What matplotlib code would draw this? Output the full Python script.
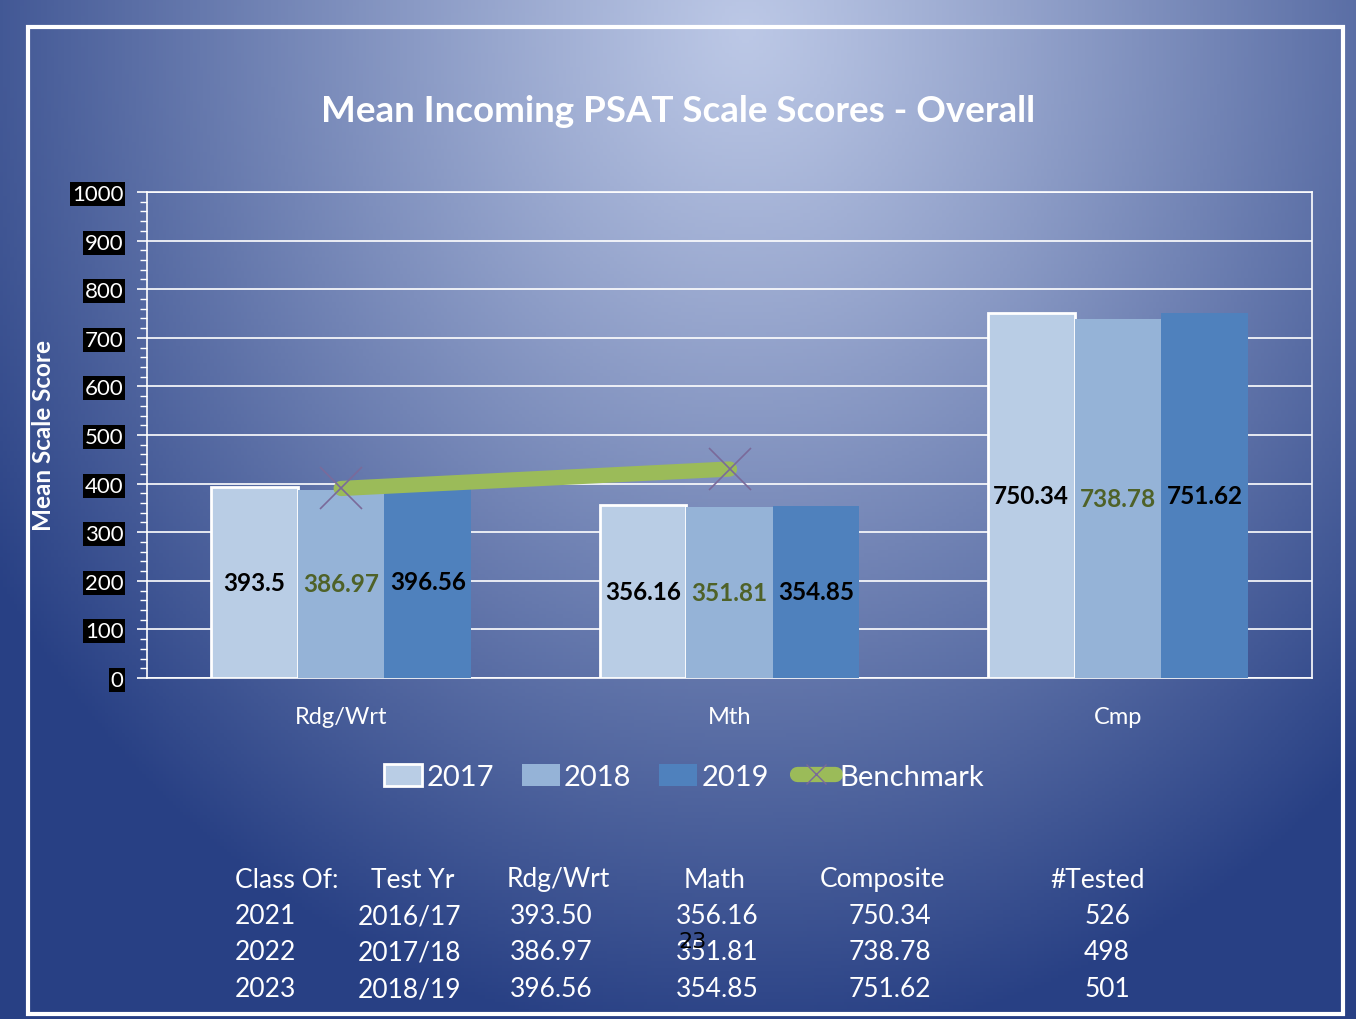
import numpy as np
import matplotlib
matplotlib.use('Agg')
import matplotlib.pyplot as plt
from matplotlib.patches import Rectangle, Patch
from matplotlib.lines import Line2D
from matplotlib.ticker import MultipleLocator

plt.rcParams['font.family'] = ['Lato', 'DejaVu Sans']

# ---- data ----
categories = ['Rdg/Wrt', 'Mth', 'Cmp']
years = ['2017', '2018', '2019']
scores_2017 = [393.5, 356.16, 750.34]
scores_2018 = [386.97, 351.81, 738.78]
scores_2019 = [396.56, 354.85, 751.62]
benchmark = [390, 430, np.nan]
label_text_2017 = ['393.5', '356.16', '750.34']
label_text_2018 = ['386.97', '351.81', '738.78']
label_text_2019 = ['396.56', '354.85', '751.62']

table_header = ['Class Of:', 'Test Yr', 'Rdg/Wrt', 'Math', 'Composite', '#Tested']
class_of = ['2021', '2022', '2023']
test_yr = ['2016/17', '2017/18', '2018/19']
tbl_rdg = ['393.50', '386.97', '396.56']
tbl_math = ['356.16', '351.81', '354.85']
tbl_comp = ['750.34', '738.78', '751.62']
tbl_tested = ['526', '498', '501']

bar_colors = ['#b9cde5', '#95b3d7', '#4f81bd']
label_colors = ['black', '#4f6228', 'black']

W, H = 1356, 1020
fig = plt.figure(figsize=(W / 100, H / 100), dpi=100)

# background gradient (light at top centre, dark blue at edges)
bg = fig.add_axes([0, 0, 1, 1])
yy, xx = np.mgrid[0:1:300j, 0:1:400j]
t = np.sqrt(((xx - 0.55) / 0.66) ** 2 + ((yy - 0.03) / 1.0) ** 2)
t = np.clip(t, 0, 1) ** 1.1
light = np.array([188, 200, 230]) / 255
dark = np.array([40, 64, 132]) / 255
img = light[None, None, :] * (1 - t[..., None]) + dark[None, None, :] * t[..., None]
bg.imshow(img, extent=[0, 1, 0, 1], aspect='auto', origin='upper')
bg.set_xlim(0, 1)
bg.set_ylim(0, 1)
bg.axis('off')

# white frame
bg.add_patch(Rectangle((28 / W, 1 - 1015 / H), (1343 - 28) / W, (1015 - 28) / H,
                       fill=False, edgecolor='white', linewidth=3))

# ---- main chart ----
ax = fig.add_axes([147 / W, 1 - 679 / H, (1312 - 147) / W, (679 - 193) / H])
ax.set_facecolor('none')
x = np.arange(len(categories))
bw = 0.223
series = [scores_2017, scores_2018, scores_2019]
texts = [label_text_2017, label_text_2018, label_text_2019]
for i, (vals, col) in enumerate(zip(series, bar_colors)):
    xs = x + (i - 1) * bw
    ax.bar(xs, vals, width=bw, color=col, zorder=3,
           edgecolor='white' if i == 0 else 'none', linewidth=2 if i == 0 else 0,
           label=years[i])
    for xi, v, s in zip(xs, vals, texts[i]):
        ax.text(xi, v / 2, s, ha='center', va='center', fontsize=17.5,
                fontweight='bold', color=label_colors[i], zorder=5)

ax.plot(x, benchmark, color='#9bbb59', linewidth=11, solid_capstyle='round', zorder=4)
ax.plot(x, benchmark, linestyle='none', marker='x', markersize=30,
        markeredgecolor='#7a6a9a', markeredgewidth=1.2, zorder=4)

ax.set_xlim(-0.5, 2.5)
ax.set_ylim(0, 1000)
ax.yaxis.set_major_locator(MultipleLocator(100))
ax.yaxis.set_minor_locator(MultipleLocator(20))
ax.grid(axis='y', color='white', linewidth=1.2, zorder=1)
for s in ax.spines.values():
    s.set_color('white')
    s.set_linewidth(1.2)
ax.tick_params(axis='y', which='both', colors='white', direction='out')
ax.tick_params(axis='y', which='major', length=7, width=1.2, pad=10, labelsize=16)
ax.tick_params(axis='y', which='minor', length=5, width=1)
ax.tick_params(axis='x', length=0, pad=20, labelsize=17, labelcolor='white')
ax.set_xticks(x)
ax.set_xticklabels(categories)
for lab in ax.get_yticklabels():
    lab.set_color('white')
    lab.set_bbox(dict(facecolor='black', edgecolor='none', pad=1.5))
ax.set_ylabel('Mean Scale Score', color='white', fontsize=17.5, fontweight='bold', labelpad=12)

# title
fig.text(0.5, 1 - 112 / H, 'Mean Incoming PSAT Scale Scores - Overall', ha='center',
         va='center', fontsize=26.5, fontweight='bold', color='white')

# legend
handles = [Patch(facecolor=bar_colors[0], edgecolor='white', linewidth=2),
           Patch(facecolor=bar_colors[1], edgecolor='none'),
           Patch(facecolor=bar_colors[2], edgecolor='none'),
           Line2D([0], [0], color='#9bbb59', linewidth=11, solid_capstyle='round',
                  marker='x', markersize=14, markeredgecolor='#7a6a9a')]
leg = fig.legend(handles, years + ['Benchmark'], loc='center', ncol=4,
                 bbox_to_anchor=(684 / W, 1 - 778 / H), frameon=False,
                 fontsize=21, handlelength=1.3, handleheight=0.8,
                 handletextpad=0.15, columnspacing=0.95)
for txt in leg.get_texts():
    txt.set_color('white')

# summary table
col_x = [235, 371, 507, 684, 820, 1050]
fs = 19
for cx, h in zip(col_x, table_header):
    fig.text(cx / W, 1 - 880 / H, h, ha='left', va='center', fontsize=fs, color='white')
row_y = [917, 953, 990]
data_x = [(235, 'left'), (358, 'left'), (510, 'left'), (676, 'left'), (849, 'left'), (1130, 'right')]
for r, ry in enumerate(row_y):
    row = [class_of[r], test_yr[r], tbl_rdg[r], tbl_math[r], tbl_comp[r], tbl_tested[r]]
    for (dx, ha), val in zip(data_x, row):
        fig.text(dx / W, 1 - ry / H, val, ha=ha, va='center', fontsize=fs, color='white')

# slide number (overlaps the table in the original slide)
fig.text(693 / W, 1 - 942 / H, '23', ha='center', va='center', fontsize=16,
         color='black', family='DejaVu Sans')

fig.savefig('out.png', dpi=100)
